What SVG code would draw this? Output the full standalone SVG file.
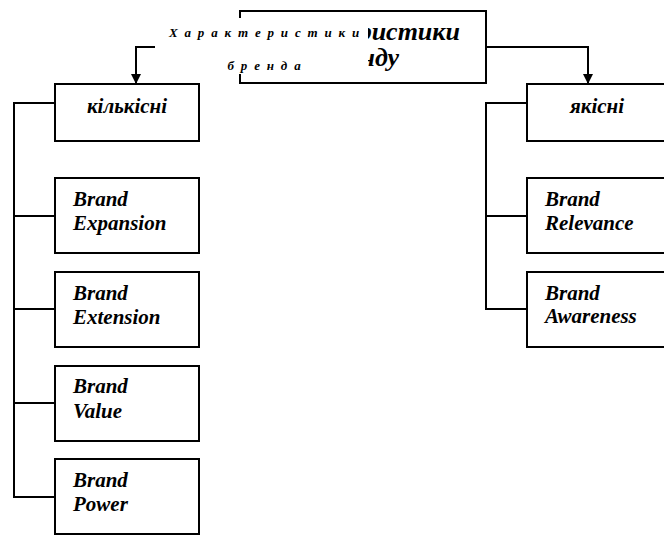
<svg xmlns="http://www.w3.org/2000/svg" width="664" height="535" viewBox="0 0 664 535">
<defs>
<style>
.box{fill:#fff;stroke:#000;stroke-width:2}
.ln{fill:none;stroke:#000;stroke-width:2}
.t{font-family:"Liberation Serif","Times New Roman",serif;font-weight:bold;font-style:italic;fill:#000}
.big{font-size:26px}
.lab{font-size:21px}
.sm{font-size:13px;letter-spacing:1.8px}
</style>
<marker id="ah" viewBox="0 0 10 10" refX="10" refY="5" markerWidth="5" markerHeight="5" orient="auto" markerUnits="strokeWidth">
<path d="M0,0 L10,5 L0,10 z" fill="#000"/>
</marker>
</defs>
<rect width="664" height="535" fill="#fff"/>

<g id="top">
<rect class="box" x="240" y="11" width="246" height="72"/>
<text class="t big" x="359" y="40" text-anchor="middle">Характеристики</text>
<text class="t big" x="361" y="66" text-anchor="middle">бренду</text>
</g>

<g id="connectors">
<polyline class="ln" points="240,47 136,47 136,84" marker-end="url(#ah)"/>
<polyline class="ln" points="486,47 588,47 588,84" marker-end="url(#ah)"/>
<polyline class="ln" points="55,103 14,103 14,497 55,497"/>
<line class="ln" x1="14" y1="216" x2="55" y2="216"/>
<line class="ln" x1="14" y1="309" x2="55" y2="309"/>
<line class="ln" x1="14" y1="403" x2="55" y2="403"/>
<polyline class="ln" points="527,103 486,103 486,309 527,309"/>
<line class="ln" x1="486" y1="216" x2="527" y2="216"/>
</g>

<g id="overlay-label">
<rect x="155" y="18" width="213" height="56" fill="#fff"/>
<text class="t sm" x="265" y="37" text-anchor="middle">Х а р а к т е р и с т и к и</text>
<text class="t sm" x="265" y="70" text-anchor="middle">б р е н д а</text>
</g>

<g id="kilkisni">
<rect class="box" x="55" y="84" width="144" height="57"/>
<text class="t lab" x="127" y="113" text-anchor="middle">кількісні</text>
</g>
<g id="brand-expansion">
<rect class="box" x="55" y="178" width="144" height="75"/>
<text class="t lab" x="73" y="206">Brand</text>
<text class="t lab" x="73" y="230">Expansion</text>
</g>
<g id="brand-extension">
<rect class="box" x="55" y="272" width="144" height="75"/>
<text class="t lab" x="73" y="300">Brand</text>
<text class="t lab" x="73" y="324">Extension</text>
</g>
<g id="brand-value">
<rect class="box" x="55" y="366" width="144" height="75"/>
<text class="t lab" x="73" y="393">Brand</text>
<text class="t lab" x="73" y="418">Value</text>
</g>
<g id="brand-power">
<rect class="box" x="55" y="459" width="144" height="75"/>
<text class="t lab" x="73" y="487">Brand</text>
<text class="t lab" x="73" y="511">Power</text>
</g>

<g id="yakisni">
<rect class="box" x="527" y="84" width="145" height="57"/>
<text class="t lab" x="597" y="113" text-anchor="middle">якісні</text>
</g>
<g id="brand-relevance">
<rect class="box" x="527" y="178" width="145" height="75"/>
<text class="t lab" x="545" y="206">Brand</text>
<text class="t lab" x="545" y="230">Relevance</text>
</g>
<g id="brand-awareness">
<rect class="box" x="527" y="272" width="145" height="75"/>
<text class="t lab" x="545" y="300">Brand</text>
<text class="t lab" x="545" y="323">Awareness</text>
</g>
</svg>
